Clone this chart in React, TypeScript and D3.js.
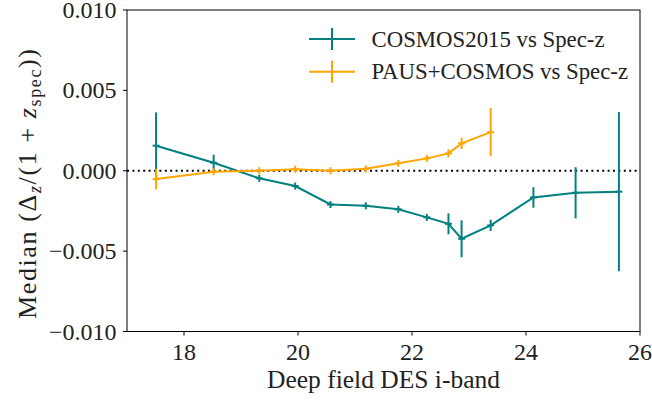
import React from 'react';
import * as d3 from 'd3';

const magBins = [17.51, 18.52, 19.32, 19.95, 20.57, 21.19, 21.76, 22.26, 22.64, 22.87, 23.38, 24.13, 24.87, 25.63];

const cosmosMedian = [0.00156, 0.0005, -0.00047, -0.00095, -0.0021, -0.00218, -0.0024, -0.0029, -0.0033, -0.00423, -0.0034, -0.00166, -0.00137, -0.0013];
const cosmosErr = [0.00207, 0.0005, 0.0002, 0.00015, 0.00015, 0.0001, 0.0001, 0.00015, 0.00065, 0.00115, 0.00035, 0.00064, 0.00159, 0.00495];

const pausMedian = [-0.00052, -0.00006, 0.0, 0.0001, 0.0, 0.00012, 0.00046, 0.00077, 0.00108, 0.0017, 0.0024];
const pausErr = [0.00064, 0.0001, 0.0001, 0.0001, 0.0001, 0.0001, 0.0001, 0.0001, 0.00025, 0.00035, 0.0015];

const xTicks = [18, 20, 22, 24, 26];
const yTicks = [-0.01, -0.005, 0, 0.005, 0.01];

const seriesNames = ['COSMOS2015 vs Spec-z', 'PAUS+COSMOS vs Spec-z'];
const seriesColors = ['#008080', '#ffa500'];

const W = 652;
const H = 401;
const M = { left: 127, right: 640, top: 10, bottom: 331.5 };
const FONT = '"Liberation Serif", "DejaVu Serif", serif';

const x = d3.scaleLinear().domain([17, 26]).range([M.left, M.right]);
const y = d3.scaleLinear().domain([-0.01, 0.01]).range([M.bottom, M.top]);

const fmtY = (v: number) => {
  const s = Math.abs(v).toFixed(3);
  return v < 0 ? '\u2212' + s : s;
};

interface Pt { x: number; y: number; e: number }

const Series: React.FC<{ pts: Pt[]; color: string }> = ({ pts, color }) => {
  const line = d3.line<Pt>().x((d) => x(d.x)).y((d) => y(d.y));
  const mk = 3.5;
  return (
    <g>
      <path d={line(pts) || ''} fill="none" stroke={color} strokeWidth={2} />
      {pts.map((p, i) => {
        const cx = x(p.x);
        const cy = y(p.y);
        const top = Math.min(y(p.y + p.e), cy - mk);
        const bot = Math.max(y(p.y - p.e), cy + mk);
        return (
          <g key={i}>
            <line x1={cx} x2={cx} y1={top} y2={bot} stroke={color} strokeWidth={2} />
            <line x1={cx - mk} x2={cx + mk} y1={cy} y2={cy} stroke={color} strokeWidth={2} />
          </g>
        );
      })}
    </g>
  );
};

export default function App() {
  const cosmos: Pt[] = magBins.map((m, i) => ({ x: m, y: cosmosMedian[i], e: cosmosErr[i] }));
  const paus: Pt[] = pausMedian.map((v, i) => ({ x: magBins[i], y: v, e: pausErr[i] }));

  return (
    <svg width={W} height={H} style={{ position: 'absolute', left: 0, top: 0, background: '#fff' }}>
      {/* zero reference */}
      <line x1={M.left} x2={M.right} y1={y(0)} y2={y(0)} stroke="#000" strokeWidth={2} strokeDasharray="2,3.4" />

      <Series pts={cosmos} color={seriesColors[0]} />
      <Series pts={paus} color={seriesColors[1]} />

      {/* frame */}
      <rect x={M.left} y={M.top} width={M.right - M.left} height={M.bottom - M.top} fill="none" stroke="#000" strokeWidth={1} />

      {xTicks.map((t) => (
        <g key={t}>
          <line x1={x(t)} x2={x(t)} y1={M.bottom} y2={M.bottom + 4} stroke="#000" strokeWidth={1} />
          <text x={x(t)} y={360} textAnchor="middle" fontFamily={FONT} fontSize={24} fill="#222">{t}</text>
        </g>
      ))}
      {yTicks.map((t) => (
        <g key={t}>
          <line x1={M.left - 4} x2={M.left} y1={y(t)} y2={y(t)} stroke="#000" strokeWidth={1} />
          <text x={116.5} y={y(t) + 8} textAnchor="end" fontFamily={FONT} fontSize={24} fill="#222">{fmtY(t)}</text>
        </g>
      ))}

      <text x={(M.left + M.right) / 2} y={388} textAnchor="middle" fontFamily={FONT} fontSize={25.5} fill="#222">
        Deep field DES i-band
      </text>
      <text
        transform="translate(36,184) rotate(-90)"
        textAnchor="middle"
        textLength={270}
        lengthAdjust="spacing"
        fontFamily={FONT}
        fontSize={26}
        fill="#222"
      >
        Median (Δ<tspan fontStyle="italic" fontSize={18} dy={5}>z</tspan>
        <tspan dy={-5}>/(1 + </tspan>
        <tspan fontStyle="italic">z</tspan>
        <tspan fontSize={18} dy={5}>spec</tspan>
        <tspan dy={-5}>))</tspan>
      </text>

      {/* legend */}
      {seriesNames.map((name, i) => {
        const ly = 39 + i * 32.7;
        return (
          <g key={name}>
            <line x1={309} x2={355} y1={ly} y2={ly} stroke={seriesColors[i]} strokeWidth={2} />
            <line x1={332} x2={332} y1={ly - 11} y2={ly + 11} stroke={seriesColors[i]} strokeWidth={2} />
            <text x={371.5} y={ly + 7.7} fontFamily={FONT} fontSize={22.8} fill="#222">{name}</text>
          </g>
        );
      })}
    </svg>
  );
}
